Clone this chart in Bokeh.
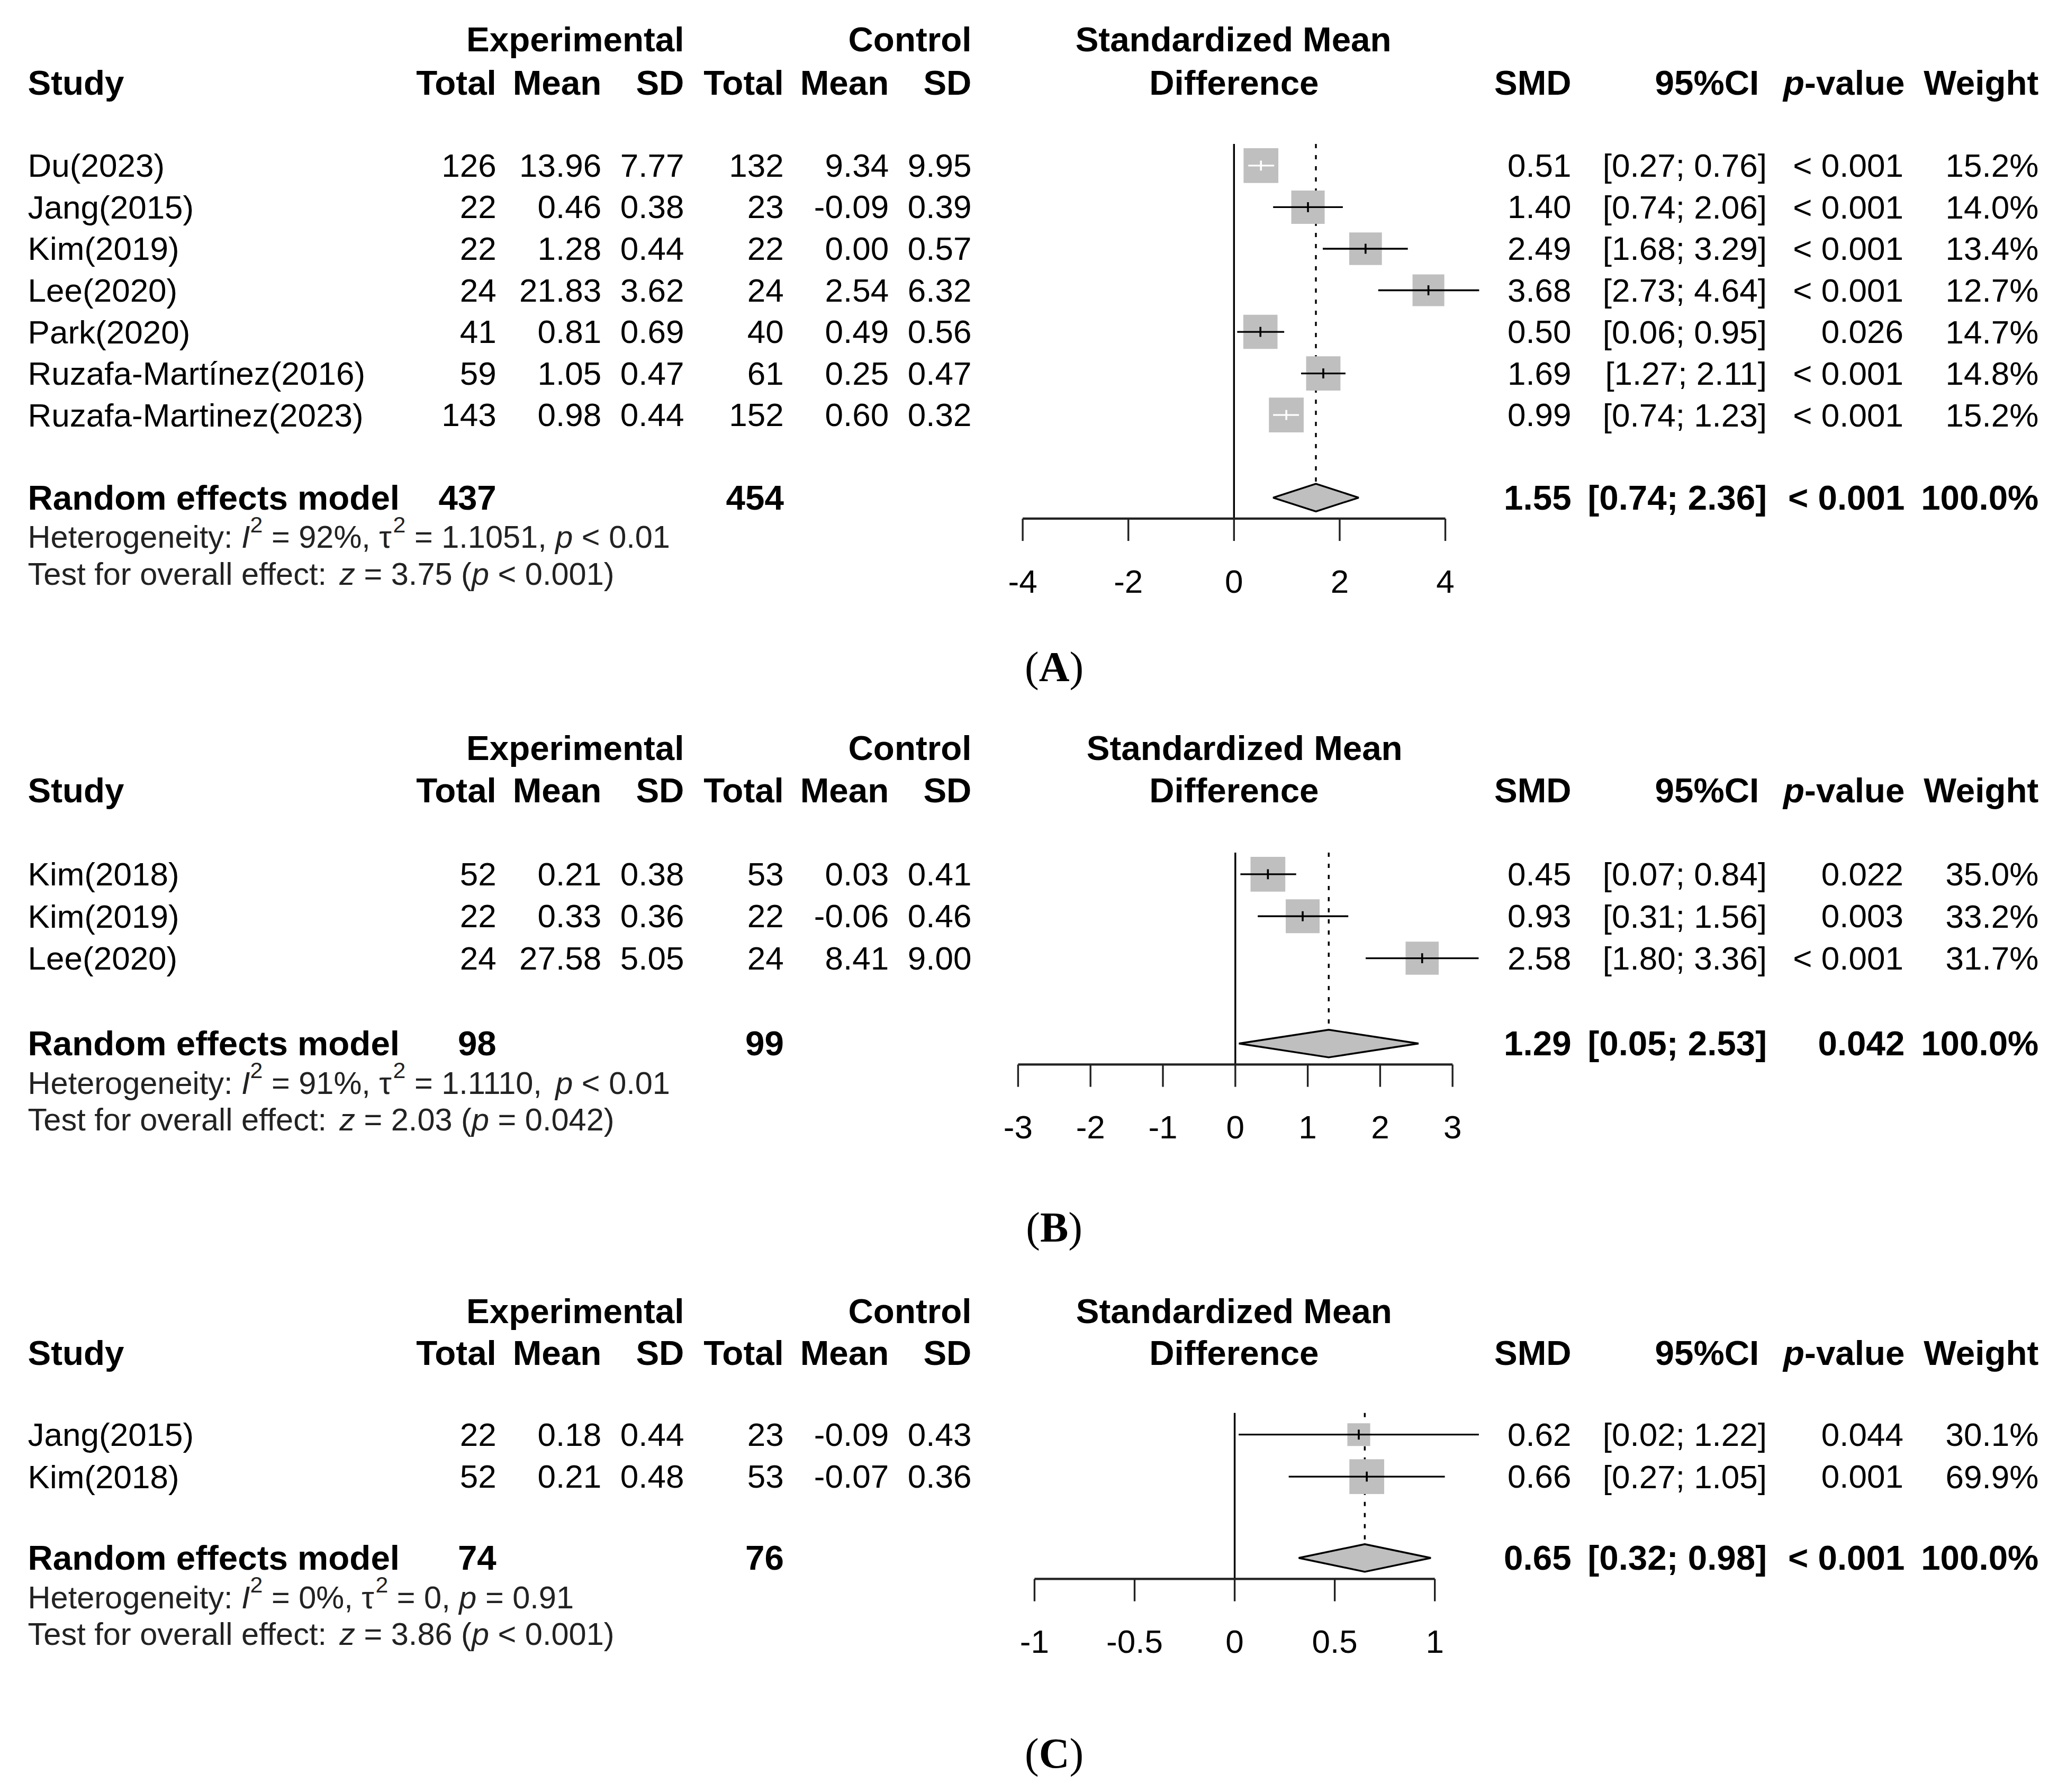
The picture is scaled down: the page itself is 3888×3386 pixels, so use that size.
import math
from bokeh.plotting import figure
from bokeh.models import Range1d, ColumnDataSource
from bokeh.core.properties import value, field
from bokeh.embed import file_html
from bokeh.resources import INLINE

# ---------------- data: panel A ----------------
A_study = ["Du(2023)", "Jang(2015)", "Kim(2019)", "Lee(2020)", "Park(2020)",
           "Ruzafa-Martínez(2016)", "Ruzafa-Martinez(2023)"]
A_exp_n = [126, 22, 22, 24, 41, 59, 143]
A_exp_mean = [13.96, 0.46, 1.28, 21.83, 0.81, 1.05, 0.98]
A_exp_sd = [7.77, 0.38, 0.44, 3.62, 0.69, 0.47, 0.44]
A_ctl_n = [132, 23, 22, 24, 40, 61, 152]
A_ctl_mean = [9.34, -0.09, 0.00, 2.54, 0.49, 0.25, 0.60]
A_ctl_sd = [9.95, 0.39, 0.57, 6.32, 0.56, 0.47, 0.32]
A_smd = [0.51, 1.40, 2.49, 3.68, 0.50, 1.69, 0.99]
A_lo = [0.27, 0.74, 1.68, 2.73, 0.06, 1.27, 0.74]
A_hi = [0.76, 2.06, 3.29, 4.64, 0.95, 2.11, 1.23]
A_p = ["< 0.001", "< 0.001", "< 0.001", "< 0.001", "0.026", "< 0.001", "< 0.001"]
A_weight = [15.2, 14.0, 13.4, 12.7, 14.7, 14.8, 15.2]
A_total = [437, 454]
A_pooled = [1.55, 0.74, 2.36]
A_pooled_p = "< 0.001"
A_het = ["92%", "1.1051", "< 0.01"]
A_test = ["3.75", "< 0.001"]
A_ticks = [-4, -2, 0, 2, 4]
A_tick_labels = ["-4", "-2", "0", "2", "4"]

# ---------------- data: panel B ----------------
B_study = ["Kim(2018)", "Kim(2019)", "Lee(2020)"]
B_exp_n = [52, 22, 24]
B_exp_mean = [0.21, 0.33, 27.58]
B_exp_sd = [0.38, 0.36, 5.05]
B_ctl_n = [53, 22, 24]
B_ctl_mean = [0.03, -0.06, 8.41]
B_ctl_sd = [0.41, 0.46, 9.00]
B_smd = [0.45, 0.93, 2.58]
B_lo = [0.07, 0.31, 1.80]
B_hi = [0.84, 1.56, 3.36]
B_p = ["0.022", "0.003", "< 0.001"]
B_weight = [35.0, 33.2, 31.7]
B_total = [98, 99]
B_pooled = [1.29, 0.05, 2.53]
B_pooled_p = "0.042"
B_het = ["91%", "1.1110", "< 0.01"]
B_test = ["2.03", "= 0.042"]
B_ticks = [-3, -2, -1, 0, 1, 2, 3]
B_tick_labels = ["-3", "-2", "-1", "0", "1", "2", "3"]

# ---------------- data: panel C ----------------
C_study = ["Jang(2015)", "Kim(2018)"]
C_exp_n = [22, 52]
C_exp_mean = [0.18, 0.21]
C_exp_sd = [0.44, 0.48]
C_ctl_n = [23, 53]
C_ctl_mean = [-0.09, -0.07]
C_ctl_sd = [0.43, 0.36]
C_smd = [0.62, 0.66]
C_lo = [0.02, 0.27]
C_hi = [1.22, 1.05]
C_p = ["0.044", "0.001"]
C_weight = [30.1, 69.9]
C_total = [74, 76]
C_pooled = [0.65, 0.32, 0.98]
C_pooled_p = "< 0.001"
C_het = ["0%", "0", "= 0.91"]
C_test = ["3.86", "< 0.001"]
C_ticks = [-1, -0.5, 0, 0.5, 1]
C_tick_labels = ["-1", "-0.5", "0", "0.5", "1"]

# ---------------- layout ----------------
S = 3888 / 1568.0          # page px per layout unit
W, H = 3872, 3370
X0, X1 = 0.0, W / S
Y0, Y1 = 0.0, H / S

SANS = "Liberation Sans"
SERIF = "Liberation Serif"
INK = "black"
HET_INK = "#222222"
GREY = "#bfbfbf"
F_REG, F_BOLD, F_HET, F_LAB = 62, 65.5, 59.5, 80

REG_W = {' ': 278, '%': 889, '(': 333, ')': 333, ',': 278, '-': 333, '.': 278,
         ':': 278, ';': 278, '<': 584, '=': 584, '[': 278, ']': 278, 'H': 722,
         'I': 278, 'T': 611, 'a': 556, 'c': 500, 'e': 556, 'f': 278, 'g': 556,
         'i': 222, 'l': 222, 'n': 556, 'o': 556, 'p': 556, 'r': 333, 's': 500,
         't': 278, 'v': 500, 'y': 500, 'z': 500, 'τ': 440}
BOLD_W = {' ': 278, 'p': 611, '-': 333, 'v': 556, 'a': 556, 'l': 278, 'u': 611, 'e': 556}
SERIF_W = {' ': 250, '(': 333, ')': 333, 'A': 722, 'B': 667, 'C': 722}


def em_width(s, table):
    return sum(table.get(c, 556) for c in s) / 1000.0


panels = [
    dict(key="A", letter="A", study=A_study, en=A_exp_n, em=A_exp_mean, esd=A_exp_sd,
         cn=A_ctl_n, cm=A_ctl_mean, csd=A_ctl_sd, smd=A_smd, lo=A_lo, hi=A_hi,
         p=A_p, w=A_weight, total=A_total, pooled=A_pooled, pooled_p=A_pooled_p,
         het=A_het, test=A_test, ticks=A_ticks, tick_labels=A_tick_labels,
         hdr1=30, hdr2=63, row0=126, sp=31.67, re=379, zero=940, slope=40.25,
         smd_hdr=939.5, label_y=508),
    dict(key="B", letter="B", study=B_study, en=B_exp_n, em=B_exp_mean, esd=B_exp_sd,
         cn=B_ctl_n, cm=B_ctl_mean, csd=B_ctl_sd, smd=B_smd, lo=B_lo, hi=B_hi,
         p=B_p, w=B_weight, total=B_total, pooled=B_pooled, pooled_p=B_pooled_p,
         het=B_het, test=B_test, ticks=B_ticks, tick_labels=B_tick_labels,
         hdr1=570, hdr2=602, row0=666, sp=32.0, re=795, zero=941, slope=55.17,
         smd_hdr=948, label_y=935),
    dict(key="C", letter="C", study=C_study, en=C_exp_n, em=C_exp_mean, esd=C_exp_sd,
         cn=C_ctl_n, cm=C_ctl_mean, csd=C_ctl_sd, smd=C_smd, lo=C_lo, hi=C_hi,
         p=C_p, w=C_weight, total=C_total, pooled=C_pooled, pooled_p=C_pooled_p,
         het=C_het, test=C_test, ticks=C_ticks, tick_labels=C_tick_labels,
         hdr1=999, hdr2=1031, row0=1093, sp=32.0, re=1187, zero=940.5, slope=152.5,
         smd_hdr=940, label_y=1336),
]

p = figure(width=W, height=H, x_range=Range1d(X0, X1), y_range=Range1d(Y1, Y0),
           toolbar_location=None, output_backend="svg",
           x_axis_location=None, y_axis_location=None, min_border=0,
           outline_line_color=None, background_fill_color="white",
           border_fill_color="white")
p.grid.visible = False
p.extra_x_ranges = {
    pn["key"]: Range1d((X0 - pn["zero"]) / pn["slope"], (X1 - pn["zero"]) / pn["slope"])
    for pn in panels
}

T = {k: [] for k in ("x", "y", "text", "font", "size", "style", "align", "color")}


def txt(x, y, s, size, style="normal", align="left", font=SANS, color=INK):
    T["x"].append(x)
    T["y"].append(y)
    T["text"].append(s)
    T["font"].append(font)
    T["size"].append("%.1fpx" % size)
    T["style"].append(style)
    T["align"].append(align)
    T["color"].append(color)


STYLE = {"n": "normal", "i": "italic", "b": "bold", "bi": "bold italic", "sup": "normal"}


def rich(x, y, pieces, size, font=SANS, color=INK, tables=None):
    """Lay out text pieces of mixed style one after another (SVG drops
    leading/trailing blanks, so they are turned into x offsets)."""
    for s, kind in pieces:
        if kind == "sup":
            fs = size * 0.72
            yy = y - 0.39 * size / S
        else:
            fs = size
            yy = y
        table = tables[kind] if tables else (BOLD_W if "b" in kind else REG_W)
        core = s.lstrip(" ")
        lead = em_width(s[:len(s) - len(core)], table) * fs / S
        core = core.rstrip(" ")
        if core:
            txt(x + lead, yy, core, fs, STYLE[kind], "left", font, color)
        x += em_width(s, table) * fs / S
    return x


for pn in panels:
    key = pn["key"]
    n = len(pn["study"])
    rows = [pn["row0"] + i * pn["sp"] for i in range(n)]
    re_y = pn["re"]
    axis_y = re_y + 16
    top = rows[0] - 16.5

    # ---- headers
    txt(521, pn["hdr1"], "Experimental", F_BOLD, "bold", "right")
    txt(740, pn["hdr1"], "Control", F_BOLD, "bold", "right")
    txt(pn["smd_hdr"], pn["hdr1"], "Standardized Mean", F_BOLD, "bold", "center")
    h2 = pn["hdr2"]
    txt(21, h2, "Study", F_BOLD, "bold", "left")
    for xr, s in [(378, "Total"), (458, "Mean"), (521, "SD"), (597, "Total"),
                  (677, "Mean"), (740, "SD"), (1197, "SMD"), (1340, "95%CI"),
                  (1553, "Weight")]:
        txt(xr, h2, s, F_BOLD, "bold", "right")
    txt(940, h2, "Difference", F_BOLD, "bold", "center")
    wv = em_width("-value", BOLD_W) * F_BOLD / S
    txt(1451, h2, "-value", F_BOLD, "bold", "right")
    txt(1451 - wv, h2, "p", F_BOLD, "bold italic", "right")

    # ---- study rows
    for i in range(n):
        y = rows[i]
        txt(21, y, pn["study"][i], F_REG)
        txt(378, y, "%d" % pn["en"][i], F_REG, align="right")
        txt(458, y, "%.2f" % pn["em"][i], F_REG, align="right")
        txt(521, y, "%.2f" % pn["esd"][i], F_REG, align="right")
        txt(597, y, "%d" % pn["cn"][i], F_REG, align="right")
        txt(677, y, "%.2f" % pn["cm"][i], F_REG, align="right")
        txt(740, y, "%.2f" % pn["csd"][i], F_REG, align="right")
        txt(1197, y, "%.2f" % pn["smd"][i], F_REG, align="right")
        txt(1346, y, "[%.2f; %.2f]" % (pn["lo"][i], pn["hi"][i]), F_REG, align="right")
        txt(1450, y, pn["p"][i], F_REG, align="right")
        txt(1553, y, "%.1f%%" % pn["w"][i], F_REG, align="right")

    # ---- pooled row
    est, plo, phi = pn["pooled"]
    txt(21, re_y, "Random effects model", F_BOLD, "bold")
    txt(378, re_y, "%d" % pn["total"][0], F_BOLD, "bold", "right")
    txt(597, re_y, "%d" % pn["total"][1], F_BOLD, "bold", "right")
    txt(1197, re_y, "%.2f" % est, F_BOLD, "bold", "right")
    txt(1346, re_y, "[%.2f; %.2f]" % (plo, phi), F_BOLD, "bold", "right")
    txt(1451, re_y, pn["pooled_p"], F_BOLD, "bold", "right")
    txt(1553, re_y, "100.0%", F_BOLD, "bold", "right")

    # ---- heterogeneity / test lines
    i2, tau2, hp = pn["het"]
    rich(21, re_y + 30, [("Heterogeneity: ", "n"), ("I", "i"), ("2", "sup"),
                         (" = %s, " % i2, "n"), ("τ", "n"), ("2", "sup"),
                         (" = %s, " % tau2, "n"), ("p", "i"), (" %s" % hp, "n")],
         F_HET, color=HET_INK)
    z, zp = pn["test"]
    rich(21, re_y + 58, [("Test for overall effect: ", "n"), ("z", "i"),
                         (" = %s (" % z, "n"), ("p", "i"), (" %s)" % zp, "n")],
         F_HET, color=HET_INK)

    # ---- panel caption "(A)"
    tabs = {"n": SERIF_W, "b": SERIF_W}
    pieces = [("(", "n"), (pn["letter"], "b"), (")", "n")]
    tot = sum(em_width(s, SERIF_W) for s, _ in pieces) * F_LAB / S
    rich(803 - tot / 2, pn["label_y"], pieces, F_LAB, font=SERIF, tables=tabs)

    # ---- forest marks (SMD scale)
    p.segment(x0=[0], x1=[0], y0=[top], y1=[axis_y], x_range_name=key,
              line_color=INK, line_width=3.4)
    p.segment(x0=[est], x1=[est], y0=[top], y1=[re_y - 10.5], x_range_name=key,
              line_color=INK, line_width=3.4, line_dash="8 13")
    wmax = max(pn["w"])
    sides = [65.7 * math.sqrt(wi / wmax) for wi in pn["w"]]
    inner = ["white" if (pn["hi"][i] - pn["lo"][i]) * pn["slope"] * S < sides[i]
             else INK for i in range(n)]
    src = ColumnDataSource(dict(x=pn["smd"], y=rows, side=sides, lo=pn["lo"],
                                hi=pn["hi"], col=inner,
                                y0=[r - 3.8 for r in rows], y1=[r + 3.8 for r in rows]))
    p.rect(x="x", y="y", width="side", height="side", width_units="screen",
           height_units="screen", source=src, x_range_name=key,
           fill_color=GREY, line_color=None)
    p.segment(x0="lo", x1="hi", y0="y", y1="y", source=src, x_range_name=key,
              line_color="col", line_width=3.3)
    p.segment(x0="x", x1="x", y0="y0", y1="y1", source=src, x_range_name=key,
              line_color="col", line_width=3.6)
    p.patches(xs=[[plo, est, phi, est]],
              ys=[[re_y, re_y - 10.5, re_y, re_y + 10.5]], x_range_name=key,
              fill_color=GREY, line_color=INK, line_width=3.4)

    # ---- axis
    tk = pn["ticks"]
    p.segment(x0=[tk[0]], x1=[tk[-1]], y0=[axis_y], y1=[axis_y], x_range_name=key,
              line_color="#222222", line_width=4.2)
    p.segment(x0=tk, x1=tk, y0=[axis_y] * len(tk), y1=[axis_y + 17] * len(tk),
              x_range_name=key, line_color="#222222", line_width=3.4)
    p.text(x=tk, y=[axis_y + 48] * len(tk), text=pn["tick_labels"], x_range_name=key,
           text_font=value(SANS), text_font_size=value("%dpx" % F_REG),
           text_align="center", text_baseline="middle", text_color=INK)

p.text(x="x", y="y", text="text", source=ColumnDataSource(T),
       text_font=field("font"), text_font_size=field("size"),
       text_font_style=field("style"), text_align=field("align"),
       text_baseline="middle", text_color=field("color"))

open("out.html", "w").write(file_html(p, INLINE))
